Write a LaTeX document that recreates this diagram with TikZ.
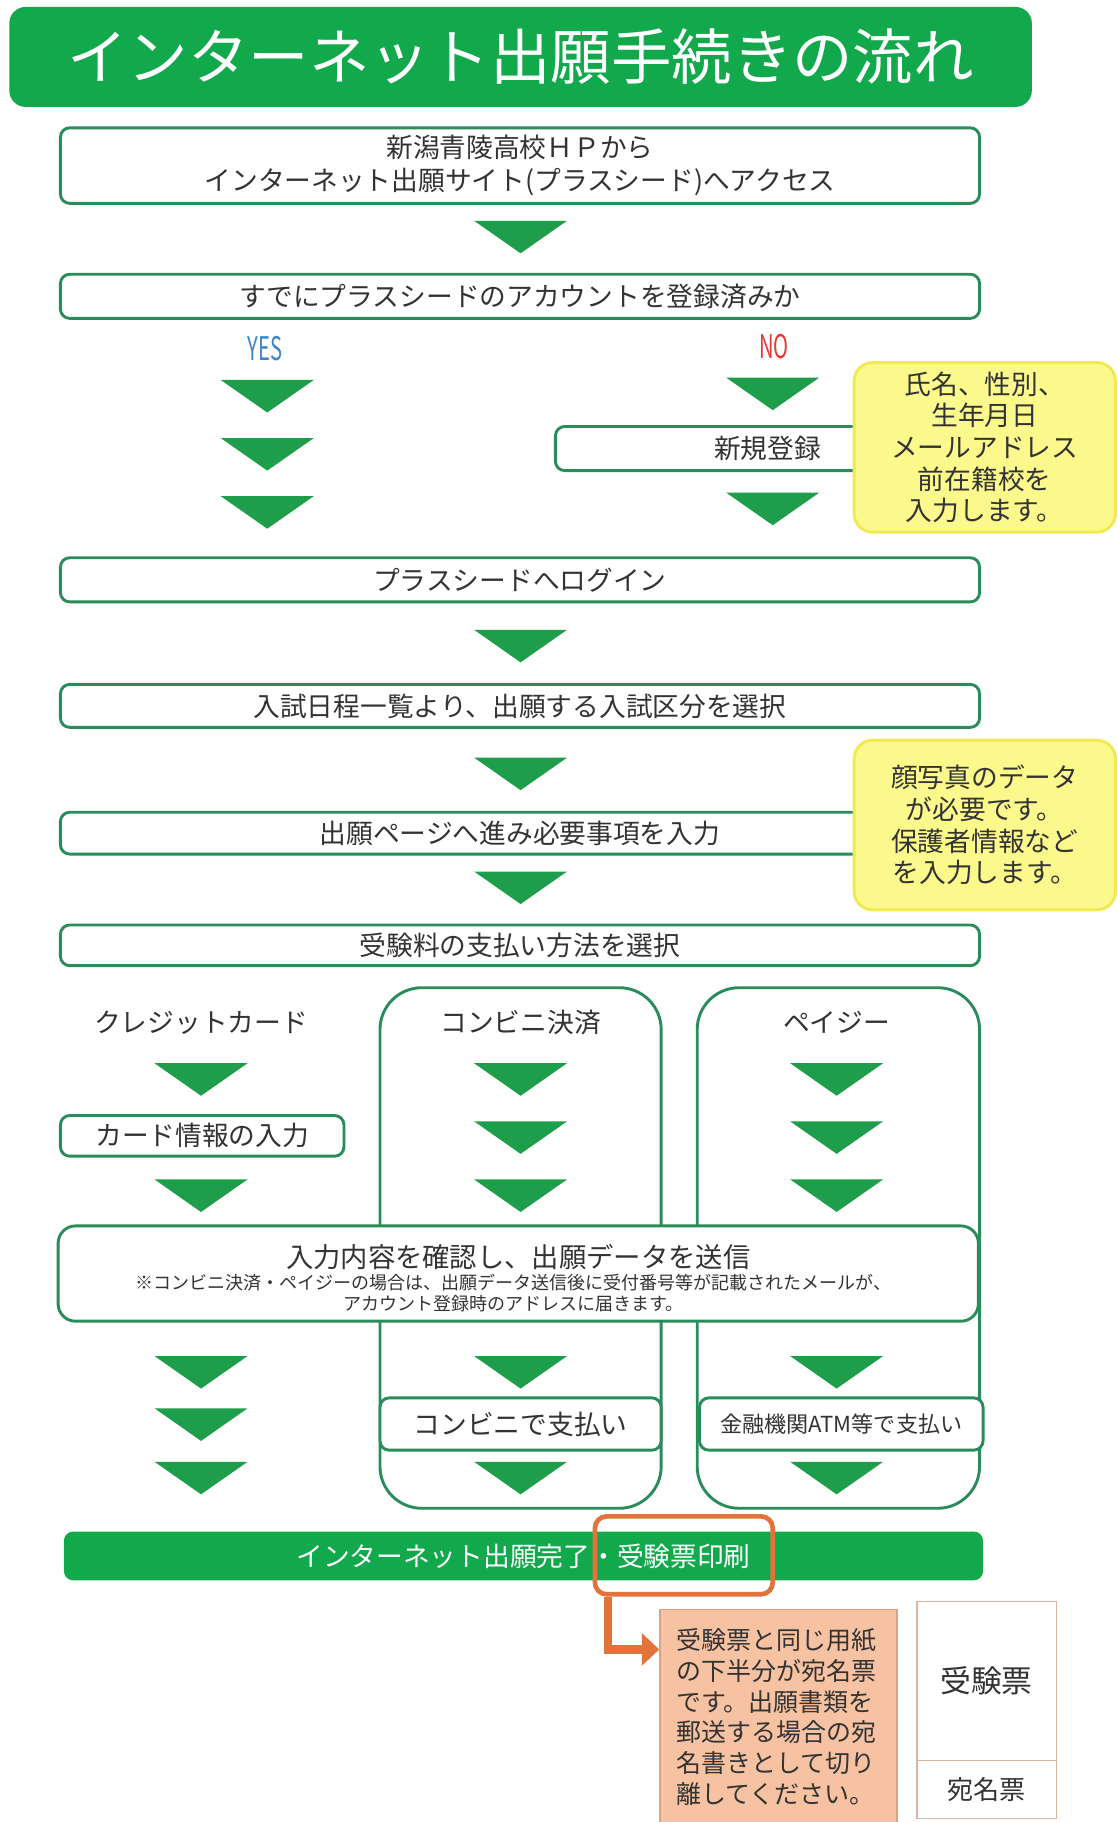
\documentclass[tikz,border=0pt]{standalone}
\usepackage{fontspec}
\newfontfamily\jp{Noto Sans CJK JP}
\usetikzlibrary{arrows.meta}

\definecolor{titlegreen}{HTML}{12A84C}
\definecolor{boxgreen}{HTML}{2A8C5A}
\definecolor{trigreen}{HTML}{1E9E4A}
\definecolor{textgray}{HTML}{333333}
\definecolor{noteyellow}{HTML}{FBF88C}
\definecolor{noteborder}{HTML}{F0EA50}
\definecolor{hlorange}{HTML}{E2733A}
\definecolor{salmonfill}{HTML}{F6C2A2}
\definecolor{salmonborder}{HTML}{DCA282}
\definecolor{ticketborder}{HTML}{D9B79E}
\definecolor{yesblue}{HTML}{3D85C6}
\definecolor{nored}{HTML}{E53935}

\newcommand{\fsz}[2]{\fontsize{#1}{#2}\selectfont}

\tikzset{
	stepbox/.style={draw=boxgreen, line width=2.5pt, rounded corners=8pt, fill=white, text=textgray, font=\jp\fsz{23}{28}, inner sep=0pt, align=center},
	widebox/.style={stepbox, minimum width=791pt},
	notebox/.style={draw=noteborder, line width=2.5pt, rounded corners=16pt, fill=noteyellow, text=textgray, font=\jp\fsz{23}{27.3}, align=center, inner sep=0pt, minimum width=225pt, minimum height=146pt},
	paycol/.style={draw=boxgreen, line width=2.5pt, rounded corners=36pt, minimum height=448pt},
	coltitle/.style={text=textgray, font=\jp\fsz{23}{23}},
	downtri/.pic={\fill[trigreen] (-40,-14) -- (40,-14) -- (0,14) -- cycle;}
}

\begin{document}
\begin{tikzpicture}[x=1pt, y=-1pt]
	\useasboundingbox (0,0) rectangle (962,1568);

	% title
	\node[fill=titlegreen, rounded corners=14pt, minimum width=880pt, minimum height=86pt, text=white, font=\jp\fsz{52}{52}] (title) at (448,49) {インターネット出願手続きの流れ};

	\node[widebox, minimum height=65pt] (access) at (447.5,142.5) {新潟青陵高校ＨＰから\\インターネット出願サイト(プラスシード)へアクセス};
	\pic at (448,204) {downtri};
	\node[widebox, minimum height=38pt] (account) at (447.5,255) {すでにプラスシードのアカウントを登録済みか};

	\node[text=yesblue, font=\jp] (yes) at (228,300) {\scalebox{0.62}[1]{\fsz{28}{28}YES}};
	\node[text=nored, font=\jp] (no) at (666,298) {\scalebox{0.62}[1]{\fsz{28}{28}NO}};
	\pic at (230,341) {downtri};
	\pic at (230,391) {downtri};
	\pic at (230,441) {downtri};
	\pic at (665,339) {downtri};
	\node[stepbox, minimum width=365pt, minimum height=38pt] (newreg) at (660.5,386) {新規登録};
	\pic at (665,438) {downtri};
	\node[notebox] (regnote) at (847.5,385) {氏名、性別、\\生年月日\\メールアドレス\\前在籍校を\\入力します。};

	\node[widebox, minimum height=38pt] (login) at (447.5,499) {プラスシードへログイン};
	\pic at (448,556) {downtri};
	\node[widebox, minimum height=37pt] (exam) at (447.5,607.5) {入試日程一覧より、出願する入試区分を選択};
	\pic at (448,666) {downtri};
	\node[widebox, minimum height=36pt] (input) at (447.5,717) {出願ページへ進み必要事項を入力};
	\node[notebox] (photonote) at (847.5,710) {顔写真のデータ\\が必要です。\\保護者情報など\\を入力します。};
	\pic at (448,764) {downtri};
	\node[widebox, minimum height=35pt] (payment) at (447.5,813.5) {受験料の支払い方法を選択};

	% payment columns
	\node[paycol, minimum width=242pt] (convcol) at (448,1074) {};
	\node[paycol, minimum width=243pt] (paycolr) at (721.5,1074) {};
	\node[coltitle] (credit) at (173,880) {クレジットカード};
	\node[coltitle] (conv) at (448,880) {コンビニ決済};
	\node[coltitle] (payeasy) at (720,880) {ペイジー};
	\pic at (173,929) {downtri};
	\node[stepbox, minimum width=244pt, minimum height=35pt] (card) at (174,977.5) {カード情報の入力};
	\pic at (173,1029) {downtri};
	\foreach \y in {929,979,1029} {
		\pic at (448,\y) {downtri};
		\pic at (720,\y) {downtri};
	}

	\node[widebox, rounded corners=15pt, minimum width=792pt, minimum height=82pt] (confirm) at (446,1096) {};
	\node[text=textgray, font=\jp\fsz{23.5}{23.5}] (confirmtxt) at (446,1082) {入力内容を確認し、出願データを送信};
	\node[text=textgray, font=\jp\fsz{15.5}{18}, align=center] (confirmnote) at (442,1113) {※コンビニ決済・ペイジーの場合は、出願データ送信後に受付番号等が記載されたメールが、\\アカウント登録時のアドレスに届きます。};

	\foreach \y in {1181,1226,1272}
		\pic at (173,\y) {downtri};
	\pic at (448,1181) {downtri};
	\node[stepbox, minimum width=242pt, minimum height=45pt] (convpay) at (448,1225.5) {コンビニで支払い};
	\pic at (448,1272) {downtri};
	\pic at (720,1181) {downtri};
	\node[stepbox, minimum width=244pt, minimum height=45pt, font=\jp\fsz{19}{19}] (bankpay) at (724,1225.5) {金融機関ATM等で支払い};
	\pic at (720,1272) {downtri};

	% finish
	\node[fill=titlegreen, rounded corners=8pt, minimum width=791pt, minimum height=42pt, text=white, font=\jp\fsz{23}{23}] (done) at (450.5,1339) {インターネット出願完了・受験票印刷};
	\node[draw=hlorange, line width=4pt, rounded corners=10pt, minimum width=153pt, minimum height=67pt] (hl) at (588.5,1338.5) {};

	\node[draw=salmonborder, line width=1.2pt, fill=salmonfill, minimum width=204pt, minimum height=185pt, text width=176pt, align=left, text=textgray, font=\jp\fsz{21.5}{26.4}] (mailnote) at (670,1477.5) {受験票と同じ用紙\\の下半分が宛名票\\です。出願書類を\\郵送する場合の宛\\名書きとして切り\\離してください。};
	\draw[hlorange, line width=7pt, -{Triangle[length=15pt,width=27pt]}] ([xshift=13pt]hl.south west) |- ([yshift=58pt]mailnote.west);

	\node[draw=ticketborder, line width=1.2pt, fill=white, minimum width=120pt, minimum height=137pt, text=textgray, font=\jp\fsz{26.5}{26.5}] (ticket) at (849,1446.5) {受験票};
	\node[draw=ticketborder, line width=1.2pt, fill=white, minimum width=120pt, minimum height=50pt, text=textgray, font=\jp\fsz{22.5}{22.5}] (address) at (849,1540) {宛名票};
\end{tikzpicture}
\end{document}
